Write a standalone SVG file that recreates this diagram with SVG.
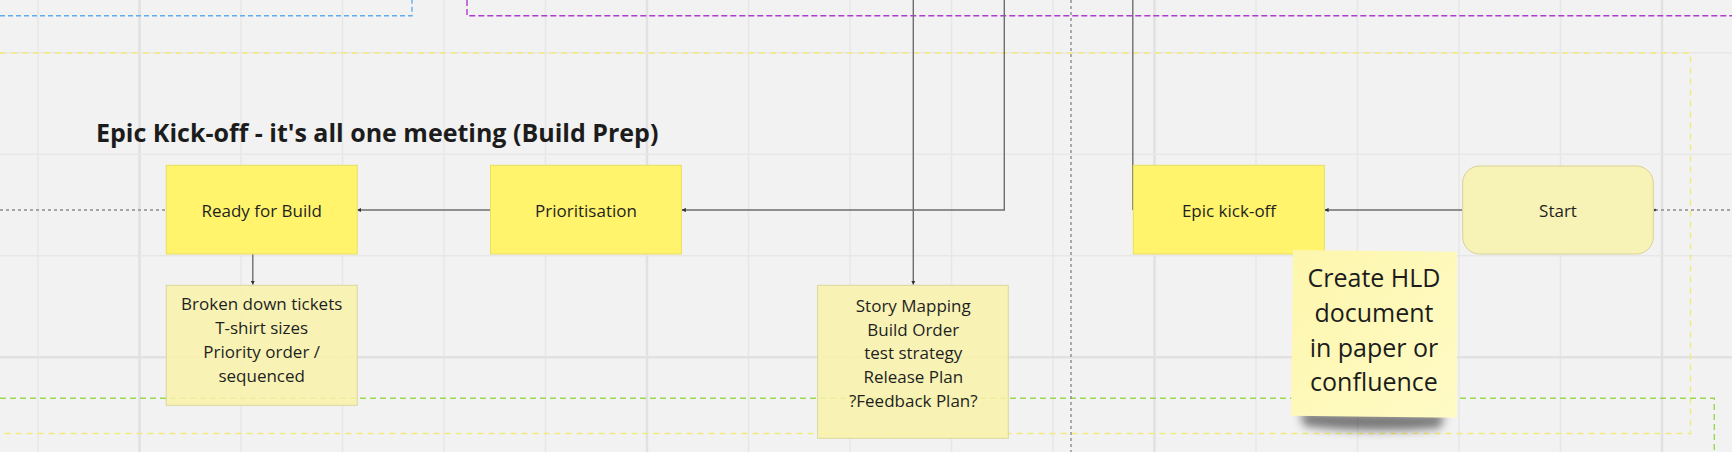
<svg xmlns="http://www.w3.org/2000/svg" width="1732" height="452" viewBox="0 0 1732 452">
<style>
.bg{fill:#f2f2f2}
.g{stroke:#e7e7e7;stroke-width:1.5;fill:none}
.gm{stroke:#e1e1e1;stroke-width:2.5;fill:none}
.node{fill:#fff46b;stroke:#e9df5f;stroke-width:1}
.note{fill:#f9f3aa;fill-opacity:0.85;stroke:#dcd69c;stroke-width:1}
.start{fill:#f7f2ae;fill-opacity:0.9;stroke:#d8d296;stroke-width:1}
.t{font-family:"Open Sans","Liberation Sans",sans-serif;font-size:17px;fill:#1f1f1f;text-anchor:middle}
.title{font-family:"Open Sans","Liberation Sans",sans-serif;font-size:25px;font-weight:bold;fill:#1c1c1c}
.big{font-family:"Open Sans","Liberation Sans",sans-serif;font-size:25px;fill:#1c1c1c;text-anchor:middle}
.c{stroke:#6e6e6e;stroke-width:1.4;fill:none}
.dot{stroke:#8c8c8c;stroke-width:1.4;fill:none;stroke-dasharray:3 3}
.fr{fill:none;stroke-width:1.4}
</style>
<defs>
<marker id="ah" viewBox="0 0 6 6" refX="5.5" refY="3" markerWidth="3" markerHeight="3" orient="auto">
<path d="M0,0 L6,3 L0,6 z" fill="#333"/>
</marker>
<filter id="sh" x="-20%" y="-50%" width="140%" height="200%">
<feGaussianBlur stdDeviation="5"/>
</filter>
<linearGradient id="stk" x1="0" y1="0" x2="1" y2="1">
<stop offset="0" stop-color="#fdf6ad"/>
<stop offset="1" stop-color="#fffbc6"/>
</linearGradient>
</defs>
<rect class="bg" x="0" y="0" width="1732" height="452"/>
<g id="grid">
<path class="g" d="M38,0V452M241,0V452M342.5,0V452M444,0V452M545.5,0V452M748.5,0V452M850,0V452M951.5,0V452M1053,0V452M1256,0V452M1357.5,0V452M1459,0V452M1560.5,0V452"/>
<path class="gm" d="M139.5,0V452M647,0V452M1154.5,0V452M1662,0V452"/>
<path class="g" d="M0,52.8H1732M0,154.3H1732M0,255.8H1732"/>
<path class="gm" d="M0,357.3H1732"/>
</g>
<g id="frames">
<path class="fr" d="M0,15.7H412V0" stroke="#62acf2" stroke-dasharray="5 3"/>
<path class="fr" d="M467,0V15.7H1732" stroke="#ad3ad3" stroke-dasharray="6 3"/>
<path class="fr" d="M0,53H1690.5V433.5H0" stroke="#f3ea7c" stroke-dasharray="6 5"/>
<path class="fr" d="M0,398.3H1714.3V452" stroke="#9ad84f" stroke-dasharray="6 4"/>
<path class="dot" d="M1071,0V452"/>
</g>
<text class="title" x="96" y="141.7">Epic Kick-off - it's all one meeting (Build Prep)</text>
<g id="connectors">
<path class="c" d="M913.3,0V284.5" marker-end="url(#ah)"/>
<path class="c" d="M1004.3,0V210H682" marker-end="url(#ah)"/>
<path class="c" d="M1132.8,0V210"/>
<path class="c" d="M490.5,210H357.5" marker-end="url(#ah)"/>
<path class="c" d="M1462,210H1324.8" marker-end="url(#ah)"/>
<path class="c" d="M252.8,254V284.5" marker-end="url(#ah)"/>
<path class="dot" d="M0,210H166"/>
<path class="dot" d="M1655,210H1732"/>
<circle cx="1655" cy="210" r="1.3" fill="#444"/>
</g>
<g id="ready-for-build">
<rect class="node" x="166.3" y="165.3" width="190.9" height="88.7"/>
<text class="t" x="261.7" y="216.5">Ready for Build</text>
</g>
<g id="prioritisation">
<rect class="node" x="490.5" y="165.3" width="190.9" height="88.7"/>
<text class="t" x="586" y="216.5">Prioritisation</text>
</g>
<g id="epic-kick-off">
<rect class="node" x="1133.3" y="165.3" width="191" height="88.7"/>
<text class="t" x="1229" y="216.5">Epic kick-off</text>
</g>
<g id="start">
<rect class="start" x="1462.7" y="166" width="190.6" height="88" rx="17" ry="17"/>
<text class="t" x="1558" y="216.5">Start</text>
</g>
<g id="broken-down-note">
<rect class="note" x="166.3" y="285.3" width="190.9" height="120"/>
<text class="t" x="261.7" y="310">Broken down tickets</text>
<text class="t" x="261.7" y="334">T-shirt sizes</text>
<text class="t" x="261.7" y="358">Priority order /</text>
<text class="t" x="261.7" y="381.7">sequenced</text>
</g>
<g id="story-mapping-note">
<rect class="note" x="817.6" y="285.3" width="190.7" height="153"/>
<text class="t" x="913.3" y="311.7">Story Mapping</text>
<text class="t" x="913.3" y="335.5">Build Order</text>
<text class="t" x="913.3" y="359.3">test strategy</text>
<text class="t" x="913.3" y="383.1">Release Plan</text>
<text class="t" x="913.3" y="406.9">?Feedback Plan?</text>
</g>
<g id="hld-sticky">
<path d="M1300,412 L1445,414 L1440,428 Q1370,434 1304,426 Z" fill="#000" fill-opacity="0.5" filter="url(#sh)"/>
<path d="M1293,250 L1457,251.7 L1457,417.7 L1291,415.7 Z" fill="url(#stk)"/>
<text class="big" x="1374" y="287.3">Create HLD</text>
<text class="big" x="1374" y="322">document</text>
<text class="big" x="1374" y="356.5">in paper or</text>
<text class="big" x="1374" y="390.7">confluence</text>
</g>
</svg>
